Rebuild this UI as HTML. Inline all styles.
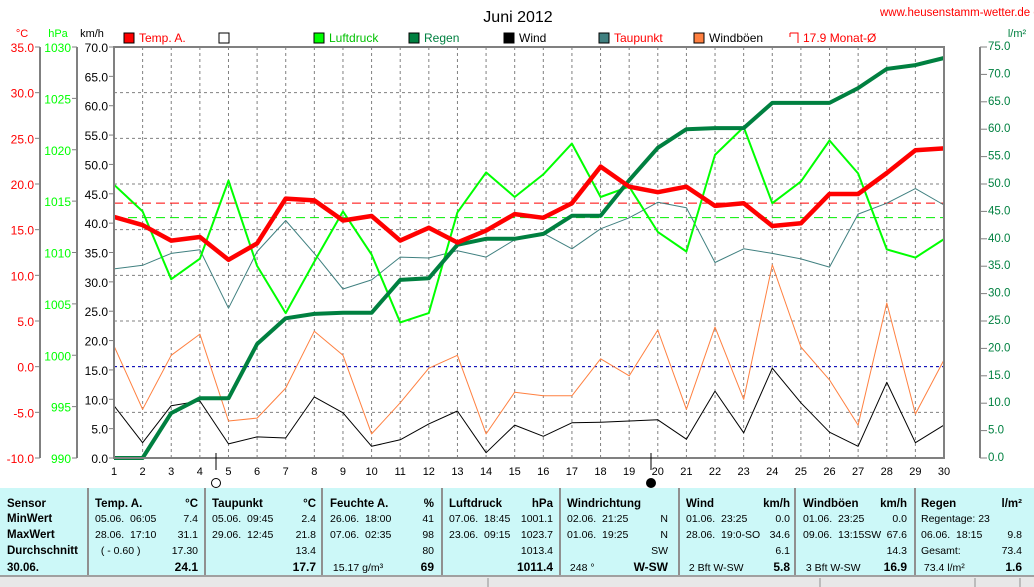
<!DOCTYPE html>
<html><head><meta charset="utf-8">
<style>
html,body{margin:0;padding:0;background:#fff;width:1034px;height:587px;overflow:hidden}
svg{display:block;font-family:"Liberation Sans",sans-serif}
</style></head>
<body>
<svg id="c" width="1034" height="587" viewBox="0 0 1034 587"></svg>
<script>
const days=[1,2,3,4,5,6,7,8,9,10,11,12,13,14,15,16,17,18,19,20,21,22,23,24,25,26,27,28,29,30];
const tempA=[16.4,15.5,13.8,14.2,11.7,13.5,18.4,18.2,16.0,16.5,13.8,15.2,13.6,14.9,16.7,16.3,17.9,21.9,19.7,19.1,19.7,17.6,17.9,15.4,15.7,18.9,18.9,21.2,23.7,23.9];
const taupunkt=[10.7,11.1,12.4,12.8,6.4,12.6,16.0,12.4,8.5,9.5,12.0,11.9,12.7,12.0,13.9,14.6,12.9,15.1,16.3,18.0,17.4,11.4,12.9,12.4,11.8,10.9,16.7,17.9,19.5,17.7];
const luftdruck=[1016.6,1014.0,1007.4,1009.4,1017.0,1008.7,1004.1,1009.1,1014.0,1009.8,1003.2,1004.1,1013.9,1017.8,1015.4,1017.6,1020.6,1015.4,1016.4,1012.0,1010.1,1019.5,1022.2,1014.8,1016.9,1020.9,1017.7,1010.3,1009.5,1011.3];
const regen=[0,0,8.2,10.9,10.9,20.8,25.5,26.3,26.5,26.5,32.5,32.8,38.9,40.0,40.0,40.9,44.2,44.2,50.7,56.6,60.0,60.2,60.2,64.8,64.8,64.8,67.5,71.0,71.7,73.0];
const wind=[8.9,2.6,8.9,9.7,2.4,3.6,3.4,10.4,7.7,2.0,3.1,5.8,8.0,0.9,5.6,3.7,6.0,6.1,6.3,6.5,3.2,11.4,4.3,15.3,9.4,4.4,2.0,12.9,2.6,5.6];
const windboeen=[19.1,8.3,17.5,21.1,6.3,6.8,11.9,21.6,17.5,4.1,9.4,15.3,17.5,4.1,11.2,10.6,10.6,16.9,14.0,21.8,8.3,22.3,10.0,32.9,18.9,13.3,5.6,26.4,7.5,16.7];
const tempMean=17.9, pressMean=1013.4;
const kmhTicks=[0,5,10,15,20,25,30,35,40,45,50,55,60,65,70];
const cTicks=[-10,-5,0,5,10,15,20,25,30,35];
const hpaTicks=[990,995,1000,1005,1010,1015,1020,1025,1030];
const rainTicks=[0,5,10,15,20,25,30,35,40,45,50,55,60,65,70,75];

const NS="http://www.w3.org/2000/svg";
const svg=document.getElementById('c');
const X0=114,X1=944,Y0=47,Y1=458;
const xDay=d=>X0+(d-1)*(X1-X0)/29;
const yKmh=v=>Y1-v*(Y1-Y0)/70;
const yC=t=>Y1-(t+10)*(Y1-Y0)/45;
const yHpa=p=>Y1-(p-990)*(Y1-Y0)/40;
const yRain=r=>Y1-r*(Y1-Y0)/75;
function el(tag,attrs,parent){const e=document.createElementNS(NS,tag);for(const k in attrs)e.setAttribute(k,attrs[k]);(parent||svg).appendChild(e);return e;}
function txt(x,y,s,fill,size,anchor,weight){const t=el('text',{x:x,y:y,fill:fill,'font-size':size,'text-anchor':anchor||'start'});if(weight)t.setAttribute('font-weight',weight);t.textContent=s;return t;}

let t=txt(518,22,'Juni 2012','#000',16,'middle');


t=txt(880,16,'www.heusenstamm-wetter.de e','#ff0000',11.5,'start');



for(let i=1;i<=8;i++){const y=Y0+i*(Y1-Y0)/9;const l=el('line',{x1:X0,x2:X1,y1:y,y2:y,stroke:'#808080','stroke-dasharray':'3,3'});

}
days.forEach(d=>{if(d>1&&d<30){const x=xDay(d);const l=el('line',{x1:x,x2:x,y1:Y0,y2:Y1,stroke:'#808080','stroke-dasharray':'3,3'});

}});

let rl=el('line',{x1:X0,x2:X1,y1:yC(0),y2:yC(0),stroke:'#0000c0','stroke-dasharray':'3,3'});


rl=el('line',{x1:X0,x2:X1,y1:yC(tempMean),y2:yC(tempMean),stroke:'#ff0000','stroke-dasharray':'9,5'});


rl=el('line',{x1:X0,x2:X1,y1:yHpa(pressMean),y2:yHpa(pressMean),stroke:'#00ee00','stroke-dasharray':'9,5'});



function series(arr,fy,color,w,name){
  const pts=arr.map((v,i)=>xDay(days[i]).toFixed(1)+','+fy(v).toFixed(1)).join(' ');
  const p=el('polyline',{points:pts,fill:'none',stroke:color,'stroke-width':w,'stroke-linejoin':'round'});
  
  
}
series(windboeen,yKmh,'#ff8040',1,'windboeen-line');
series(wind,yKmh,'#000',1,'wind-line');
series(taupunkt,yC,'#408080',1,'taupunkt-line');
series(luftdruck,yHpa,'#00ff00',2,'luftdruck-line');
series(regen,yRain,'#008040',4,'regen-line');
series(tempA,yC,'#ff0000',4.5,'temp-line');

let fr=el('rect',{x:X0,y:Y0,width:X1-X0,height:Y1-Y0,fill:'none',stroke:'#808080','stroke-width':2});



[[40,cTicks,yC,'#ff0000',v=>v.toFixed(1),'celsius-tick'],[77,hpaTicks,yHpa,'#00ff00',v=>String(v),'hpa-tick'],[114,kmhTicks,yKmh,'#000',v=>v.toFixed(1),'kmh-tick']].forEach(a=>{
  const [ax,ticks,fy,col,fmt,nm]=a;
  if(ax<114){const l=el('line',{x1:ax,x2:ax,y1:Y0,y2:Y1,stroke:'#808080','stroke-width':2});
  
  }
  ticks.forEach(v=>{const y=fy(v);el('line',{x1:ax-5,x2:ax,y1:y,y2:y,stroke:'#808080'});
    const tt=txt(ax-6,y+5,fmt(v),col,12,'end');
    
    });
});
let ra=el('line',{x1:980,x2:980,y1:Y0,y2:Y1,stroke:'#808080','stroke-width':2});


rainTicks.forEach(v=>{const y=yRain(v);el('line',{x1:980,x2:987,y1:y,y2:y,stroke:'#808080'});
  const tt=txt(988,y+3,v.toFixed(1),'#008040',11.5,'start');
  
  });
[[22,'°C','#ff0000'],[58,'hPa','#00ff00'],[92,'km/h','#000'],[1017,'l/m²','#008040']].forEach(u=>{const tt=txt(u[0],37,u[1],u[2],11,'middle');
  
  });
days.forEach(d=>{const tt=txt(xDay(d),475,String(d),'#000',11,'middle');
  
  });
el('line',{x1:216,x2:216,y1:453,y2:470,stroke:'#000'});
el('circle',{cx:216,cy:483,r:4.5,fill:'#fff',stroke:'#000'});
el('line',{x1:651,x2:651,y1:453,y2:470,stroke:'#000'});
el('circle',{cx:651,cy:483,r:4.5,fill:'#000',stroke:'#000'});

const leg=[[124,'#ff0000','Temp. A.','#ff0000'],[219,'#ffffff','',''],[314,'#00ff00','Luftdruck','#00c000'],[409,'#008040','Regen','#008040'],[504,'#000','Wind','#000'],[599,'#408080','Taupunkt','#ff0000'],[694,'#ff8040','Windböen','#000']];
leg.forEach(g=>{const r=el('rect',{x:g[0],y:33,width:10,height:10,fill:g[1],stroke:'#000'});
  
  
  if(g[2]){const tt=txt(g[0]+15,42,g[2],g[3],12,'start');
  
  }});
el('path',{d:'M790 33 H798 V43 M790 33 V37',fill:'none',stroke:'#ff0000'});
let lt=txt(803,42,'17.9 Monat-Ø','#ff0000',12,'start');



const tb=el('rect',{x:0,y:488,width:1034,height:88,fill:'#ccf8f8'});


el('rect',{x:0,y:576,width:1034,height:11,fill:'#e8e8e8'});
el('line',{x1:0,x2:1034,y1:576,y2:576,stroke:'#a0a0a0','stroke-width':2});
[88,205,322,442,560,679,795,915].forEach(x=>{const l=el('line',{x1:x,x2:x,y1:488,y2:575,stroke:'#909090','stroke-width':2});
  
  });
[488,820,975,1020].forEach(x=>el('line',{x1:x,x2:x,y1:578,y2:587,stroke:'#909090'}));
const rowsY=[507,522,538,554,571];
const labels=['Sensor','MinWert','MaxWert','Durchschnitt','30.06.'];
labels.forEach((s,i)=>{const tt=txt(7,rowsY[i],s,'#000',11.5,'start','bold');
  
  });
const cols=[
 [95,198,['Temp. A.','°C'],[['05.06.  06:05','7.4'],['28.06.  17:10','31.1'],['  ( - 0.60 )','17.30'],['','24.1']]],
 [212,316,['Taupunkt','°C'],[['05.06.  09:45','2.4'],['29.06.  12:45','21.8'],['','13.4'],['','17.7']]],
 [330,434,['Feuchte A.','%'],[['26.06.  18:00','41'],['07.06.  02:35','98'],['','80'],[' 15.17 g/m³','69']]],
 [449,553,['Luftdruck','hPa'],[['07.06.  18:45','1001.1'],['23.06.  09:15','1023.7'],['','1013.4'],['','1011.4']]],
 [567,668,['Windrichtung',''],[['02.06.  21:25','N'],['01.06.  19:25','N'],['','SW'],[' 248 °','W-SW']]],
 [686,790,['Wind','km/h'],[['01.06.  23:25','0.0'],['28.06.  19:0-SO','34.6'],['','6.1'],[' 2 Bft W-SW','5.8']]],
 [803,907,['Windböen','km/h'],[['01.06.  23:25','0.0'],['09.06.  13:15SW','67.6'],['','14.3'],[' 3 Bft W-SW','16.9']]],
 [921,1022,['Regen','l/m²'],[['Regentage: 23',''],['06.06.  18:15','9.8'],['Gesamt:','73.4'],[' 73.4 l/m²','1.6']]]
];
cols.forEach(c=>{
  let h=txt(c[0],rowsY[0],c[2][0],'#000',11.5,'start','bold');
  
  
  h=txt(c[1],rowsY[0],c[2][1],'#000',11.5,'end','bold');
  c[3].forEach((r,i)=>{
    const a=txt(c[0],rowsY[i+1],r[0],'#000',10.5,'start');
    a.setAttribute('xml:space','preserve');a.style.whiteSpace='pre';
    
    
    const b=txt(c[1],rowsY[i+1],r[1],'#000',i===3?12:10.5,'end',i===3?'bold':null);
    
    
  });
});
</script>
</body></html>
